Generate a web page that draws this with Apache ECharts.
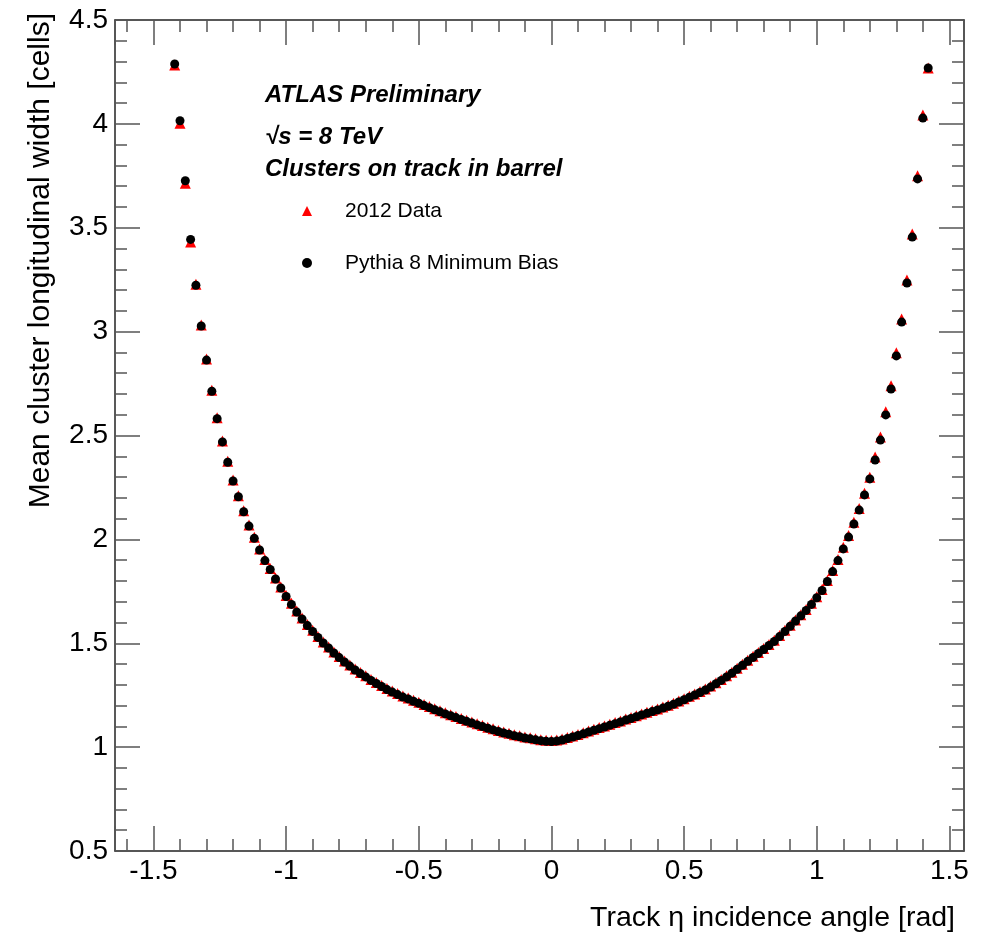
<!DOCTYPE html>
<html>
<head>
<meta charset="utf-8">
<title>Mean cluster longitudinal width</title>
<script src="https://cdn.jsdelivr.net/npm/echarts@6/dist/echarts.min.js"></script>
<style>
  html, body { margin: 0; padding: 0; background: #fff; }
  #chart { width: 992px; height: 936px; }
</style>
</head>
<body>
<div id="chart"></div>
<script>
// bin centres of the track incidence angle [rad]
var binCenters = [
	-1.42, -1.40, -1.38, -1.36, -1.34, -1.32, -1.30, -1.28, -1.26, -1.24,
	-1.22, -1.20, -1.18, -1.16, -1.14, -1.12, -1.10, -1.08, -1.06, -1.04,
	-1.02, -1.00, -0.98, -0.96, -0.94, -0.92, -0.90, -0.88, -0.86, -0.84,
	-0.82, -0.80, -0.78, -0.76, -0.74, -0.72, -0.70, -0.68, -0.66, -0.64,
	-0.62, -0.60, -0.58, -0.56, -0.54, -0.52, -0.50, -0.48, -0.46, -0.44,
	-0.42, -0.40, -0.38, -0.36, -0.34, -0.32, -0.30, -0.28, -0.26, -0.24,
	-0.22, -0.20, -0.18, -0.16, -0.14, -0.12, -0.10, -0.08, -0.06, -0.04,
	-0.02, 0.00, 0.02, 0.04, 0.06, 0.08, 0.10, 0.12, 0.14, 0.16,
	0.18, 0.20, 0.22, 0.24, 0.26, 0.28, 0.30, 0.32, 0.34, 0.36,
	0.38, 0.40, 0.42, 0.44, 0.46, 0.48, 0.50, 0.52, 0.54, 0.56,
	0.58, 0.60, 0.62, 0.64, 0.66, 0.68, 0.70, 0.72, 0.74, 0.76,
	0.78, 0.80, 0.82, 0.84, 0.86, 0.88, 0.90, 0.92, 0.94, 0.96,
	0.98, 1.00, 1.02, 1.04, 1.06, 1.08, 1.10, 1.12, 1.14, 1.16,
	1.18, 1.20, 1.22, 1.24, 1.26, 1.28, 1.30, 1.32, 1.34, 1.36,
	1.38, 1.40, 1.42
];

// 2012 Data (red triangles)
var dataWidth = [
	4.283, 4.003, 3.714, 3.432, 3.228, 3.032, 2.868, 2.718, 2.586, 2.474,
	2.376, 2.286, 2.210, 2.138, 2.069, 2.010, 1.954, 1.903, 1.860, 1.814,
	1.771, 1.730, 1.692, 1.655, 1.622, 1.590, 1.562, 1.533, 1.506, 1.482,
	1.458, 1.436, 1.415, 1.395, 1.376, 1.359, 1.343, 1.326, 1.311, 1.297,
	1.282, 1.270, 1.258, 1.246, 1.237, 1.226, 1.216, 1.205, 1.195, 1.185,
	1.175, 1.165, 1.156, 1.147, 1.138, 1.129, 1.121, 1.112, 1.104, 1.096,
	1.088, 1.080, 1.073, 1.067, 1.060, 1.055, 1.049, 1.045, 1.040, 1.036,
	1.033, 1.032, 1.034, 1.039, 1.046, 1.054, 1.061, 1.069, 1.078, 1.086,
	1.094, 1.102, 1.110, 1.118, 1.126, 1.135, 1.143, 1.151, 1.160, 1.168,
	1.176, 1.184, 1.193, 1.202, 1.211, 1.222, 1.233, 1.245, 1.256, 1.268,
	1.280, 1.294, 1.310, 1.326, 1.343, 1.361, 1.380, 1.399, 1.418, 1.437,
	1.456, 1.475, 1.494, 1.514, 1.537, 1.562, 1.587, 1.612, 1.637, 1.663,
	1.692, 1.724, 1.759, 1.802, 1.850, 1.903, 1.962, 2.019, 2.082, 2.149,
	2.222, 2.299, 2.397, 2.493, 2.614, 2.739, 2.898, 3.061, 3.249, 3.470,
	3.750, 4.043, 4.269
];

// Pythia 8 Minimum Bias (black dots)
var mcWidth = [
	4.288, 4.015, 3.726, 3.444, 3.223, 3.027, 2.863, 2.713, 2.581, 2.469,
	2.371, 2.281, 2.205, 2.133, 2.064, 2.005, 1.949, 1.898, 1.855, 1.809,
	1.766, 1.725, 1.687, 1.650, 1.617, 1.585, 1.557, 1.528, 1.501, 1.477,
	1.453, 1.431, 1.410, 1.390, 1.371, 1.354, 1.338, 1.321, 1.306, 1.292,
	1.277, 1.265, 1.253, 1.241, 1.232, 1.221, 1.211, 1.200, 1.190, 1.180,
	1.170, 1.160, 1.151, 1.142, 1.133, 1.124, 1.116, 1.107, 1.099, 1.091,
	1.083, 1.075, 1.068, 1.062, 1.055, 1.050, 1.044, 1.040, 1.035, 1.031,
	1.028, 1.027, 1.029, 1.034, 1.041, 1.049, 1.056, 1.064, 1.073, 1.081,
	1.089, 1.097, 1.105, 1.113, 1.121, 1.130, 1.138, 1.146, 1.155, 1.163,
	1.171, 1.179, 1.188, 1.197, 1.206, 1.217, 1.228, 1.240, 1.251, 1.263,
	1.275, 1.289, 1.305, 1.321, 1.338, 1.356, 1.375, 1.394, 1.413, 1.432,
	1.451, 1.470, 1.489, 1.509, 1.532, 1.557, 1.582, 1.607, 1.632, 1.658,
	1.687, 1.719, 1.754, 1.797, 1.845, 1.898, 1.954, 2.011, 2.074, 2.141,
	2.214, 2.291, 2.382, 2.478, 2.599, 2.724, 2.883, 3.046, 3.234, 3.455,
	3.735, 4.028, 4.269
];

var seriesNames = ['2012 Data', 'Pythia 8 Minimum Bias'];
var labelLines = ['ATLAS Preliminary', '\u221As = 8 TeV', 'Clusters on track in barrel'];
var xTitle = 'Track \u03B7 incidence angle [rad]';
var yTitle = 'Mean cluster longitudinal width [cells]';

var font = '"Liberation Sans", Arial, Helvetica, sans-serif';

function pairs(ys) {
	var out = [];
	for (var i = 0; i < ys.length; i++) {
		out.push([binCenters[i], ys[i]]);
	}
	return out;
}

var tickStyle = { color: '#555', width: 1.5 };
var lineStyle = { color: '#222', width: 1.5 };

function xAxisDef(pos, labels) {
	return {
		type : 'value',
		position : pos,
		min : -1.645,
		max : 1.555,
		minInterval : 0.5,
		maxInterval : 0.5,
		splitLine : { show : false },
		axisLine : { show : true, onZero : false, lineStyle : lineStyle },
		axisTick : { show : true, inside : true, length : 25, lineStyle : tickStyle },
		minorTick : { show : true, splitNumber : 5, length : 12, lineStyle : tickStyle },
		axisLabel : {
			show : labels,
			showMinLabel : false,
			showMaxLabel : false,
			margin : 6,
			fontSize : 28,
			fontFamily : font,
			color : '#000'
		}
	};
}

function yAxisDef(pos, labels) {
	return {
		type : 'value',
		position : pos,
		min : 0.5,
		max : 4.5,
		interval : 0.5,
		splitLine : { show : false },
		axisLine : { show : true, onZero : false, lineStyle : lineStyle },
		axisTick : { show : true, inside : true, length : 25, lineStyle : tickStyle },
		minorTick : { show : true, splitNumber : 5, length : 12, lineStyle : tickStyle },
		axisLabel : {
			show : labels,
			margin : 7,
			fontSize : 28,
			fontFamily : font,
			color : '#000'
		}
	};
}

var chart = echarts.init(document.getElementById('chart'), null, { renderer : 'canvas' });

var option = {
	backgroundColor : '#fff',
	animation : false,
	grid : { left : 115, right : 28, top : 20, bottom : 85 },
	xAxis : [xAxisDef('bottom', true), xAxisDef('top', false)],
	yAxis : [yAxisDef('left', true), yAxisDef('right', false)],
	legend : {
		orient : 'vertical',
		left : 297,
		top : 194,
		itemWidth : 10,
		itemHeight : 10,
		itemGap : 28,
		selectedMode : false,
		textStyle : {
			fontSize : 21,
			fontFamily : font,
			color : '#000',
			lineHeight : 24,
			padding : [0, 0, 0, 28]
		},
		data : [
			{ name : seriesNames[0], icon : 'triangle' },
			{ name : seriesNames[1], icon : 'circle' }
		]
	},
	graphic : [
		{
			type : 'text', x : 265, y : 95,
			style : { text : labelLines[0], font : 'italic bold 24px ' + font, fill : '#000', verticalAlign : 'middle' }
		},
		{
			type : 'text', x : 265, y : 137,
			style : { text : labelLines[1], font : 'italic bold 24px ' + font, fill : '#000', verticalAlign : 'middle' }
		},
		{
			type : 'text', x : 265, y : 169,
			style : { text : labelLines[2], font : 'italic bold 24px ' + font, fill : '#000', verticalAlign : 'middle' }
		},
		{
			type : 'text', x : 955, y : 918,
			style : { text : xTitle, font : '28.5px ' + font, fill : '#000', align : 'right', verticalAlign : 'middle' }
		},
		{
			type : 'text', x : 41, y : 13, rotation : Math.PI / 2,
			style : { text : yTitle, font : '30px ' + font, fill : '#000', align : 'right', verticalAlign : 'middle' }
		}
	],
	series : [{
				name : seriesNames[0],
				type : 'scatter',
				symbol : 'triangle',
				symbolSize : 11,
				silent : true,
				itemStyle : { color : '#ff0000', opacity : 1 },
				data : pairs(dataWidth)
			}, {
				name : seriesNames[1],
				type : 'scatter',
				symbol : 'circle',
				symbolSize : 9,
				silent : true,
				itemStyle : { color : '#000000', opacity : 1 },
				data : pairs(mcWidth)
			}]
};

chart.setOption(option);
</script>
</body>
</html>
